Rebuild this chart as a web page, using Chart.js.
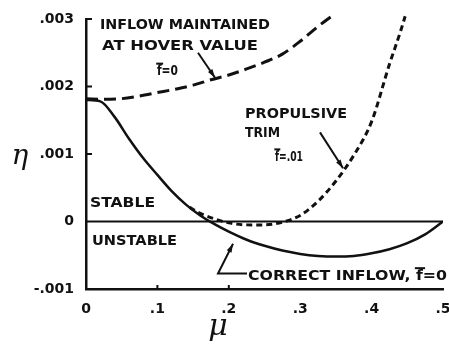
<!DOCTYPE html>
<html><head><meta charset="utf-8">
<script src="https://cdn.jsdelivr.net/npm/chart.js@4/dist/chart.umd.min.js"></script>
<style>html,body{margin:0;padding:0;background:#fff}</style>
</head><body>
<canvas id="c" width="449" height="347"></canvas>
<script>
// Advance ratio (mu) and stability parameter (eta) for the three trim cases
const muHover = [0, .025, .05, .075, .1, .125, .15, .175, .2, .225, .25, .275, .3, .325, .345];
const etaHover = [.00182, .00181, .00182, .00186, .00191, .00196, .00202, .0021, .00217, .00226, .00236, .00248, .00267, .00289, .00305];

const muCorrect = [0, .02, .04, .06, .08, .1, .12, .14, .16, .18, .2, .225, .25, .275, .3, .325, .35, .375, .4, .425, .45, .475, .5];
const etaCorrect = [.0018, .00178, .00155, .00123, .00094, .00069, .00045, .00025, .00009, -.00004, -.00015, -.00027, -.00036, -.00043, -.00048, -.00051, -.00052, -.00051, -.00047, -.00041, -.00032, -.00019, 0];

const muPropulsive = [.145, .16, .18, .2, .225, .25, .275, .3, .325, .35, .375, .4, .425, .44, .447];
const etaPropulsive = [.00021, .00012, .00004, -.00002, -.00005, -.00005, -.00001, .00009, .0003, .0006, .00098, .00148, .00233, .0028, .00304];

const muSpan = [0, .5];
const etaNeutral = [0, 0];

const xTickValues = [0, .1, .2, .3, .4, .5];
const xTickLabels = ['0', '.1', '.2', '.3', '.4', '.5'];
const yTickValues = [-.001, 0, .001, .002, .003];
const yTickLabels = ['-.001', '0', '.001', '.002', '.003'];

const pts = (xs, ys) => xs.map((x, i) => ({ x, y: ys[i] }));

// Lettered notes placed in data space: [text, mu, eta, width in px, index of barred letter]
const notes = [
  ['INFLOW MAINTAINED', .0196, .0029, 170, -1],
  ['AT HOVER VALUE', .0224, .00259, 156, -1],
  ['f=0', .0994, .00222, 21, 0],
  ['PROPULSIVE', .2227, .00159, 102, -1],
  ['TRIM', .2227, .0013, 35, -1],
  ['f=.01', .2647, .00095, 28, 0],
  ['STABLE', .0056, .00027, 65, -1],
  ['UNSTABLE', .0084, -.0003, 85, -1],
  ['CORRECT INFLOW, f=0', .2269, -.00081, 199, 16]
];
// Leader lines (polyline in data space, arrow at the last point)
const leaders = [
  [[.1569, .0025], [.1807, .00213]],
  [[.3277, .00132], [.36, .00079]],
  [[.2255, -.00077], [.1849, -.00077], [.2059, -.00033]]
];

const ink = '#111';

const decor = {
  id: 'decor',
  afterDatasetsDraw(chart) {
    const { ctx, scales: { x, y } } = chart;
    ctx.save();
    ctx.fillStyle = ink;
    ctx.strokeStyle = ink;
    // inward tick marks
    ctx.lineWidth = 2;
    const x0 = x.getPixelForValue(0);
    [.001, .002, .003].forEach(v => {
      const py = y.getPixelForValue(v);
      ctx.beginPath(); ctx.moveTo(x0, py); ctx.lineTo(x0 + 6, py); ctx.stroke();
    });
    const yb = y.getPixelForValue(-.001);
    [.1, .2].forEach(v => {
      const px = x.getPixelForValue(v);
      ctx.beginPath(); ctx.moveTo(px, yb); ctx.lineTo(px, yb - 4); ctx.stroke();
    });
    // lettering
    ctx.textBaseline = 'middle';
    ctx.textAlign = 'left';
    ctx.font = 'bold 14px "DejaVu Sans"';
    notes.forEach(([t, mx, ey, w, bar]) => {
      const px = x.getPixelForValue(mx), py = y.getPixelForValue(ey);
      const m = ctx.measureText(t).width;
      ctx.save();
      ctx.translate(px, py);
      ctx.scale(w / m, 1);
      ctx.fillText(t, 0, 0);
      if (bar >= 0) {
        const a = ctx.measureText(t.slice(0, bar)).width;
        const b = ctx.measureText(t[bar]).width;
        ctx.fillRect(a - 1, -9, b + 3, 2);
      }
      ctx.restore();
    });
    // leaders with arrowheads
    ctx.lineWidth = 2;
    leaders.forEach(path => {
      const p = path.map(([a, b]) => [x.getPixelForValue(a), y.getPixelForValue(b)]);
      ctx.beginPath();
      p.forEach(([a, b], i) => i ? ctx.lineTo(a, b) : ctx.moveTo(a, b));
      ctx.stroke();
      const [ax, ay] = p[p.length - 1], [bx, by] = p[p.length - 2];
      const ang = Math.atan2(ay - by, ax - bx);
      ctx.beginPath();
      ctx.moveTo(ax, ay);
      ctx.lineTo(ax - 9 * Math.cos(ang - 0.3), ay - 9 * Math.sin(ang - 0.3));
      ctx.lineTo(ax - 9 * Math.cos(ang + 0.3), ay - 9 * Math.sin(ang + 0.3));
      ctx.closePath();
      ctx.fill();
    });
    // axis symbols
    ctx.textAlign = 'center';
    ctx.font = 'italic 28px "DejaVu Serif"';
    ctx.fillText('\u03b7', 20, 157);
    ctx.font = 'italic 30px "DejaVu Serif"';
    ctx.fillText('\u03bc', 218, 327);
    ctx.restore();
  }
};

new Chart(document.getElementById('c'), {
  type: 'line',
  data: {
    datasets: [
      { data: pts(muSpan, etaNeutral), borderColor: ink, borderWidth: 2, pointRadius: 0 },
      { data: pts(muCorrect, etaCorrect), borderColor: ink, borderWidth: 2.5, pointRadius: 0, cubicInterpolationMode: 'monotone' },
      { data: pts(muHover, etaHover), borderColor: ink, borderWidth: 3, borderDash: [12, 6], pointRadius: 0, cubicInterpolationMode: 'monotone', clip: false },
      { data: pts(muPropulsive, etaPropulsive), borderColor: ink, borderWidth: 3, borderDash: [6, 4], pointRadius: 0, cubicInterpolationMode: 'monotone', clip: false }
    ]
  },
  options: {
    responsive: false,
    animation: false,
    devicePixelRatio: 1,
    layout: { padding: { top: 19, right: 6, left: 0, bottom: 0 } },
    plugins: { legend: { display: false }, tooltip: { enabled: false } },
    scales: {
      x: {
        type: 'linear', min: 0, max: .5,
        grid: { display: false, drawTicks: false },
        border: { display: true, color: ink, width: 2.5 },
        afterBuildTicks: s => { s.ticks = xTickValues.map(v => ({ value: v })); },
        ticks: {
          padding: 12, color: ink, maxRotation: 0,
          font: { family: 'DejaVu Sans', weight: 'bold', size: 14 },
          callback: v => xTickLabels[xTickValues.findIndex(t => Math.abs(t - v) < 1e-9)]
        },
        afterFit: s => { s.height = 58; s.paddingLeft = 0; s.paddingRight = 0; }
      },
      y: {
        type: 'linear', min: -.001, max: .003,
        grid: { display: false, drawTicks: false },
        border: { display: true, color: ink, width: 2.5 },
        afterBuildTicks: s => { s.ticks = yTickValues.map(v => ({ value: v })); },
        ticks: {
          padding: 12, color: ink,
          font: { family: 'DejaVu Sans', weight: 'bold', size: 14 },
          callback: v => yTickLabels[yTickValues.findIndex(t => Math.abs(t - v) < 1e-9)]
        },
        afterFit: s => { s.width = 86; s.paddingTop = 0; s.paddingBottom = 0; }
      }
    }
  },
  plugins: [decor]
});
</script>
</body></html>
